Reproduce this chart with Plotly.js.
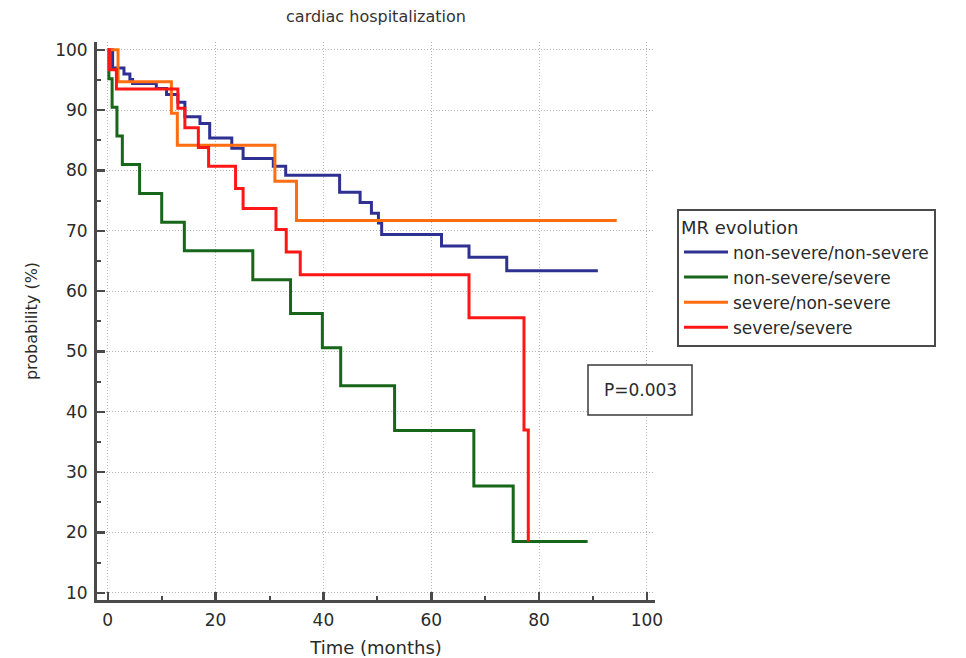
<!DOCTYPE html>
<html>
<head>
<meta charset="utf-8">
<script src="https://cdn.plot.ly/plotly-3.0.1.min.js"></script>
<style>
  html, body { margin: 0; padding: 0; background: #ffffff; }
  #chart { width: 966px; height: 658px; }
</style>
</head>
<body>
<div id="chart"></div>
<script>
// Kaplan-Meier step data (time in months, probability in %)
const seriesNames = ["non-severe/non-severe", "non-severe/severe", "severe/non-severe", "severe/severe"];

const blueTime = [0, 0.9, 3.0, 4.1, 4.6, 9.0, 10.9, 13.0, 14.3, 17.1, 18.9, 23.0, 25.1, 30.7, 33.0, 43.0, 46.8, 48.9, 50.2, 50.8, 61.9, 67.0, 74.0, 90.9];
const blueProb = [100, 97.0, 96.0, 95.1, 94.4, 93.6, 92.6, 91.3, 88.9, 87.8, 85.4, 83.7, 82.0, 80.7, 79.2, 76.4, 74.7, 72.9, 71.3, 69.4, 67.5, 65.6, 63.4, 63.4];

const greenTime = [0, 0.2, 0.8, 1.7, 2.7, 5.9, 10.0, 14.2, 26.9, 33.9, 39.8, 43.2, 53.2, 67.9, 75.2, 89.0];
const greenProb = [100, 95.2, 90.5, 85.7, 81.0, 76.2, 71.4, 66.7, 61.9, 56.3, 50.6, 44.3, 36.9, 27.7, 18.5, 18.5];

const orangeTime = [0, 1.9, 11.8, 12.9, 31.0, 35.0, 94.4];
const orangeProb = [100, 94.7, 89.5, 84.2, 78.2, 71.7, 71.7];

const redTime = [0, 0.3, 1.6, 13.0, 14.3, 16.8, 18.7, 23.7, 25.1, 31.2, 33.1, 35.7, 67.0, 77.2, 78.0];
const redProb = [100, 96.7, 93.5, 90.3, 87.1, 83.8, 80.7, 77.0, 73.7, 70.2, 66.5, 62.7, 55.6, 37.0, 18.5];

const xTickVals = [0, 20, 40, 60, 80, 100];
const yTickVals = [10, 20, 30, 40, 50, 60, 70, 80, 90, 100];
const pValueText = "P=0.003";

const FONT = "DejaVu Sans, Arial, sans-serif";
const colors = ["#2f3192", "#17661a", "#ff6d12", "#ff1717"];

const xs = [blueTime, greenTime, orangeTime, redTime];
const ys = [blueProb, greenProb, orangeProb, redProb];

const traces = xs.map((x, i) => ({
  type: "scatter",
  mode: "lines",
  x: x,
  y: ys[i],
  name: seriesNames[i],
  line: { shape: "hv", color: colors[i], width: 3 }
}));

const axisCommon = {
  showline: true,
  linecolor: "#4a4a4a",
  linewidth: 3,
  ticks: "inside",
  ticklen: 8,
  tickwidth: 2.5,
  tickcolor: "#4a4a4a",
  showgrid: true,
  gridcolor: "#b4b4b4",
  gridwidth: 1,
  griddash: "1px,2px",
  zeroline: false,
  mirror: false,
  automargin: false,
  tickfont: { family: FONT, size: 17, color: "#2a2a2a" },
  ticklabelstandoff: 3
};

const layout = {
  width: 966,
  height: 658,
  paper_bgcolor: "#ffffff",
  plot_bgcolor: "#ffffff",
  margin: { l: 97, r: 311, t: 42, b: 58, autoexpand: false },
  showlegend: true,
  title: {
    text: "cardiac hospitalization",
    font: { family: FONT, size: 16, color: "#333333" },
    xref: "paper", x: 0.5, xanchor: "center",
    yref: "container", y: 1 - 16 / 658, yanchor: "middle"
  },
  xaxis: Object.assign({}, axisCommon, {
    range: [-2.0, 101.5],
    tickvals: xTickVals,
    ticktext: xTickVals.map(String),
    minor: { dtick: 10, tick0: 0, ticks: "inside", ticklen: 4, tickwidth: 2, tickcolor: "#4a4a4a", showgrid: false },
    title: { text: "Time (months)", font: { family: FONT, size: 18, color: "#2a2a2a" }, standoff: 12 }
  }),
  yaxis: Object.assign({}, axisCommon, {
    range: [8.8, 101.3],
    tickvals: yTickVals,
    ticktext: yTickVals.map(String),
    minor: { dtick: 10, tick0: 5, ticks: "inside", ticklen: 4, tickwidth: 2, tickcolor: "#4a4a4a", showgrid: false },
    title: { text: "probability (%)", font: { family: FONT, size: 16, color: "#2a2a2a" }, standoff: 14 }
  }),
  legend: {
    x: (677 - 97) / 558,
    xanchor: "left",
    y: (600 - 209) / 558,
    yanchor: "top",
    bgcolor: "#ffffff",
    bordercolor: "#4a4a4a",
    borderwidth: 2,
    font: { family: FONT, size: 17, color: "#2a2a2a" },
    title: { text: "MR evolution", font: { family: FONT, size: 18, color: "#2a2a2a" } },
    itemwidth: 44,
    tracegroupgap: 0
  },
  shapes: [
    {
      type: "rect", xref: "paper", yref: "paper",
      x0: (588 - 97) / 558, x1: (692 - 97) / 558,
      y0: (600 - 415) / 558, y1: (600 - 365) / 558,
      line: { color: "#3a3a3a", width: 1.5 },
      fillcolor: "rgba(255,255,255,1)",
      layer: "above"
    }
  ],
  annotations: [
    {
      xref: "paper", yref: "paper",
      x: (640 - 97) / 558, y: (600 - 390) / 558,
      xanchor: "center", yanchor: "middle",
      text: pValueText, showarrow: false,
      font: { family: FONT, size: 17, color: "#2a2a2a" }
    }
  ]
};

Plotly.newPlot("chart", traces, layout, { displayModeBar: false, staticPlot: true });
</script>
</body>
</html>
